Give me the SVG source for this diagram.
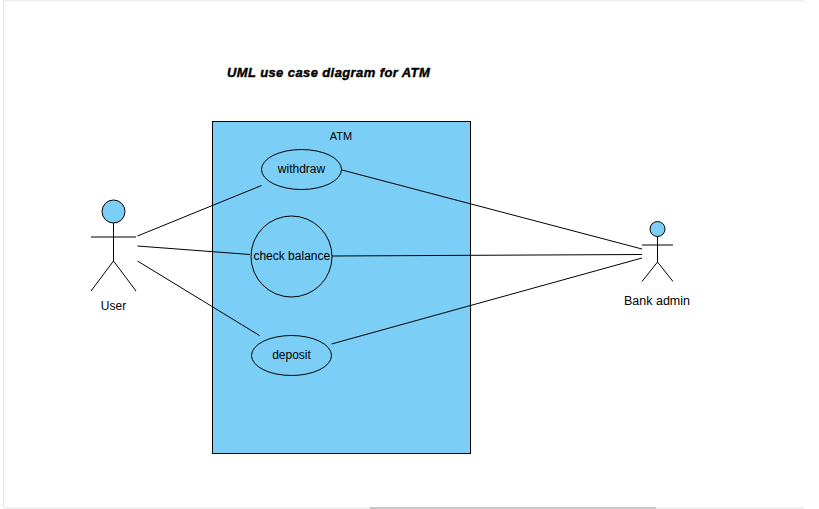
<svg xmlns="http://www.w3.org/2000/svg" width="819" height="509" viewBox="0 0 819 509">
<style>
.s{stroke:#000;stroke-width:1;fill:none}
.f{fill:#7bcef5;stroke:#000;stroke-width:1}
text{font-family:"Liberation Sans",Arial,sans-serif;font-size:12px;fill:#000;text-anchor:middle}
.t{font-size:13px;font-weight:bold;font-style:italic;text-anchor:start;letter-spacing:.4px;stroke:#000;stroke-width:.4px}
</style>
<rect width="819" height="509" fill="#fff"/>
<g id="chrome">
<rect x="3" y="0" width="801" height="1.500" fill="#eeeeee"/>
<rect x="3" y="0" width="1" height="507" fill="#e4e4e4"/>
<rect x="4" y="507" width="800" height="2" fill="#f0f0f0"/>
<rect x="370" y="507" width="286" height="2" fill="#c8c8c8"/>
</g>
<text id="title" class="t" x="227" y="77">UML use case diagram for ATM</text>
<g id="system-atm">
<rect class="f" x="212.500" y="121.500" width="258" height="332"/>
<text x="341" y="140" style="font-size:11px">ATM</text>
</g>
<g id="connectors">
<path class="s" d="M137.500 236L261.500 185.500M137.500 246L250 254.500M137.500 261L259.500 335.500M342 170L642 249M331 256L642 254.500M331.500 344L642 258"/>
</g>
<g id="uc-withdraw">
<ellipse class="f" cx="301.500" cy="169.500" rx="40" ry="20"/>
<text x="301.500" y="173">withdraw</text>
</g>
<g id="uc-check-balance">
<circle class="f" cx="291.500" cy="256.500" r="40.500"/>
<text x="291.800" y="260">check balance</text>
</g>
<g id="uc-deposit">
<ellipse class="f" cx="291.500" cy="355.500" rx="40" ry="20"/>
<text x="291.500" y="359">deposit</text>
</g>
<g id="actor-user">
<circle class="f" cx="113.500" cy="211.500" r="11.500"/>
<path class="s" d="M113.500 223V261M91 237H136M113.500 261L91 291M113.500 261L136 291"/>
<text x="113.500" y="310">User</text>
</g>
<g id="actor-bank-admin">
<circle class="f" cx="657.500" cy="229" r="7.500"/>
<path class="s" d="M657.500 236.500V262M642 245H673M657.500 262L642 281.500M657.500 262L673 281.500"/>
<text x="657" y="305" style="font-size:12.500px">Bank admin</text>
</g>
</svg>
